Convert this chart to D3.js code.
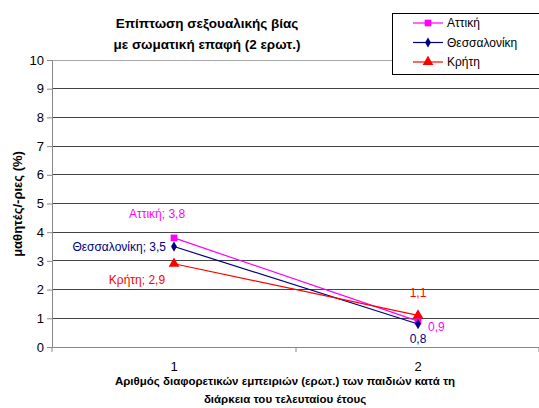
<!DOCTYPE html>
<html>
<head>
<meta charset="utf-8">
<script src="https://cdn.jsdelivr.net/npm/d3@7"></script>
<style>
  body { margin: 0; background: #fff; }
  svg { font-family: "Liberation Sans", Arial, sans-serif; }
  .title { font-weight: bold; font-size: 13.5px; }
  .axis-title { font-weight: bold; font-size: 11.5px; }
  .y-title { font-weight: bold; font-size: 13px; }
  .tick-font { font-size: 13px; }
  .lbl { font-size: 12px; }
</style>
</head>
<body>
<script>
// chart values
const categories = ["1", "2"];
const seriesNames = ["Αττική", "Θεσσαλονίκη", "Κρήτη"];
const attiki = [3.8, 0.9];
const thessaloniki = [3.5, 0.8];
const kriti = [2.9, 1.1];
const yTicks = [0, 1, 2, 3, 4, 5, 6, 7, 8, 9, 10];

const series = [
  { name: seriesNames[0], values: attiki, color: "#ff00ff", marker: d3.symbolSquare, size: 45 },
  { name: seriesNames[1], values: thessaloniki, color: "#000080", marker: d3.symbolDiamond, size: 30 },
  { name: seriesNames[2], values: kriti, color: "#ff0000", marker: d3.symbolTriangle, size: 50 }
];

const w = 539, h = 408;
const mLeft = 52, mRight = 540, mTop = 60, mBottom = 347;

const svg = d3.select("body").append("svg")
  .attr("width", w).attr("height", h);

const x = d3.scaleBand().domain(categories).range([mLeft, mRight]);
const y = d3.scaleLinear().domain([0, 10]).range([mBottom, mTop]);
const cx = d => x(d) + x.bandwidth() / 2;

// gridlines
svg.append("g").selectAll("line")
  .data(yTicks.filter(t => t > 0))
  .enter().append("line")
  .attr("x1", mLeft).attr("x2", mRight)
  .attr("y1", d => y(d)).attr("y2", d => y(d))
  .attr("stroke", d => d == 10 ? "#aaa" : "#444")
  .attr("stroke-width", 1)
  .attr("shape-rendering", "crispEdges");

// y axis
const yAxis = d3.axisLeft(y).tickValues(yTicks).tickSize(5).tickPadding(3);
const gy = svg.append("g")
  .attr("transform", "translate(" + mLeft + ",0)")
  .call(yAxis);
gy.select(".domain").attr("stroke", "#888");
gy.selectAll(".tick line").attr("stroke", "#888");
gy.selectAll("text").attr("class", "tick-font").attr("fill", "#000")
  .style("font-family", "Liberation Sans, Arial, sans-serif");

// x axis
const xAxis = d3.axisBottom(x).tickSize(0).tickPadding(10);
const gx = svg.append("g")
  .attr("transform", "translate(0," + mBottom + ")")
  .call(xAxis);
gx.select(".domain").attr("stroke", "#888").attr("d", "M" + mLeft + ",0.5H" + mRight);
gx.selectAll("text").attr("class", "tick-font").attr("fill", "#000")
  .style("font-family", "Liberation Sans, Arial, sans-serif")
  .attr("dy", "1.1em");
// tick marks between categories
svg.append("g").selectAll("line")
  .data([mLeft, x("2"), mRight - 1])
  .enter().append("line")
  .attr("x1", d => d).attr("x2", d => d)
  .attr("y1", mBottom).attr("y2", mBottom + 5)
  .attr("stroke", "#888");

// lines and markers
const line = d3.line().x((d, i) => cx(categories[i])).y(d => y(d));
series.forEach(s => {
  svg.append("path")
    .attr("d", line(s.values))
    .attr("fill", "none")
    .attr("stroke", s.color)
    .attr("stroke-width", 1.2);
  svg.selectAll(null)
    .data(s.values)
    .enter().append("path")
    .attr("d", d3.symbol().type(s.marker).size(s.size))
    .attr("transform", (d, i) => "translate(" + cx(categories[i]) + "," + y(d) + ")")
    .attr("fill", s.color);
});

// data labels
const fmt = v => String(v).replace(".", ",");
const labels = [
  { s: 0, i: 0, text: series[0].name + "; " + fmt(attiki[0]), dx: -17, dy: -20, anchor: "middle" },
  { s: 1, i: 0, text: series[1].name + "; " + fmt(thessaloniki[0]), dx: -8, dy: 4, anchor: "end" },
  { s: 2, i: 0, text: series[2].name + "; " + fmt(kriti[0]), dx: -37, dy: 20, anchor: "middle" },
  { s: 2, i: 1, text: fmt(kriti[1]), dx: 0, dy: -18, anchor: "middle" },
  { s: 0, i: 1, text: fmt(attiki[1]), dx: 10, dy: 10, anchor: "start" },
  { s: 1, i: 1, text: fmt(thessaloniki[1]), dx: 0, dy: 19, anchor: "middle" }
];
svg.selectAll(".dlabel")
  .data(labels)
  .enter().append("text")
  .attr("class", "lbl")
  .attr("x", d => cx(categories[d.i]) + d.dx)
  .attr("y", d => y(series[d.s].values[d.i]) + d.dy)
  .attr("text-anchor", d => d.anchor)
  .attr("fill", d => series[d.s].color)
  .text(d => d.text);

// title
const title = svg.append("text").attr("class", "title").attr("text-anchor", "middle");
title.append("tspan").attr("x", 207).attr("y", 28).text("Επίπτωση σεξουαλικής βίας");
title.append("tspan").attr("x", 207).attr("y", 49).text("με σωματική επαφή (2 ερωτ.)");

// axis titles
svg.append("text")
  .attr("class", "y-title")
  .attr("text-anchor", "middle")
  .attr("transform", "translate(22," + 204 + ") rotate(-90)")
  .text("μαθητές/-ριες (%)");
const xt = svg.append("text").attr("class", "axis-title").attr("text-anchor", "middle");
xt.append("tspan").attr("x", 285).attr("y", 385).text("Αριθμός διαφορετικών εμπειριών (ερωτ.) των παιδιών κατά τη");
xt.append("tspan").attr("x", 285).attr("y", 403).text("διάρκεια του τελευταίου έτους");

// legend
const lg = svg.append("g");
lg.append("rect")
  .attr("x", 392.5).attr("y", 13.5).attr("width", 160).attr("height", 61)
  .attr("fill", "#fff").attr("stroke", "#000");
series.forEach((s, i) => {
  const ly = 23 + i * 19.5;
  lg.append("line")
    .attr("x1", 413).attr("x2", 443).attr("y1", ly).attr("y2", ly)
    .attr("stroke", s.color).attr("stroke-width", 1.2);
  lg.append("path")
    .attr("d", d3.symbol().type(s.marker).size(s.size))
    .attr("transform", "translate(428," + ly + ")")
    .attr("fill", s.color);
  lg.append("text")
    .attr("class", "lbl")
    .attr("x", 447).attr("y", ly + 4)
    .text(s.name);
});
</script>
</body>
</html>
